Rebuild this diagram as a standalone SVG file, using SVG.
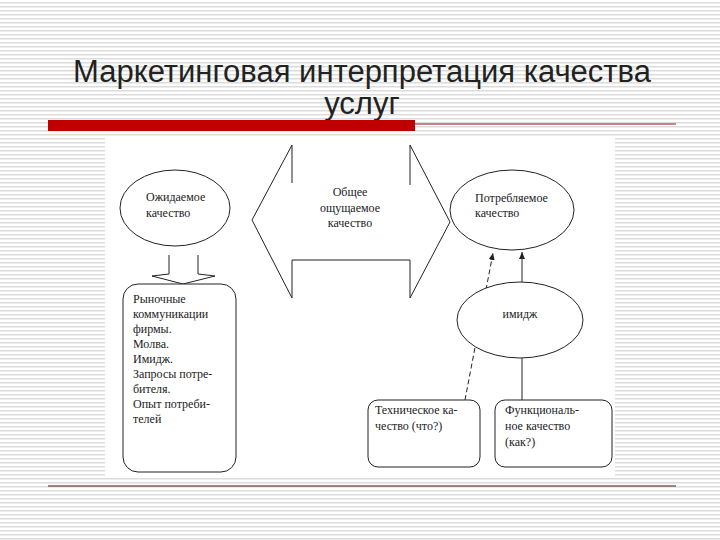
<svg xmlns="http://www.w3.org/2000/svg" width="720" height="540" viewBox="0 0 720 540">
<defs>
<pattern id="st" width="4" height="4" patternUnits="userSpaceOnUse"><rect width="4" height="4" fill="#fff"/><rect y="2" width="4" height="1.5" fill="#dcdcdc"/></pattern>
<marker id="ah" markerWidth="8" markerHeight="8" refX="7" refY="4" orient="auto"><path d="M0,1 L7,4 L0,7 Z" fill="#222"/></marker>
<style>
.ln{fill:none;stroke:#222;stroke-width:1}
.sh{fill:#fff;stroke:#222;stroke-width:1}
.t{font-size:12px;fill:#222}
.ti{font-size:31px;fill:#222;text-anchor:middle}
</style>
</defs>
<rect width="720" height="540" fill="url(#st)"/>
<g font-family="'Liberation Sans', Arial, sans-serif">
<text class="ti" x="362" y="82">Маркетинговая интерпретация качества</text>
<text class="ti" x="362" y="114">услуг</text>
</g>
<rect x="48" y="120" width="367" height="11" fill="#c00000"/>
<line x1="415" y1="124" x2="676" y2="124" stroke="#8b1a1a" stroke-width="1"/>
<line x1="48" y1="486" x2="676" y2="486" stroke="#5a1010" stroke-width="1.2"/>
<rect x="105" y="138" width="510" height="338" fill="#fff"/>
<g id="connectors">
<path class="ln" d="M292,145 V183 M292,145 L252,220 L292,298 V260 H410 V298 L450,222 L410,145 V185"/>
<path class="ln" d="M169,255 V274 L152,276 L183,284 L215,276 L198,274 V255"/>
<line class="ln" x1="465" y1="400" x2="493" y2="253" stroke-dasharray="5,3" marker-end="url(#ah)"/>
<line class="ln" x1="522" y1="282" x2="522" y2="252" marker-end="url(#ah)"/>
<line class="ln" x1="522" y1="358" x2="522" y2="400"/>
</g>
<g font-family="'Liberation Serif', 'Times New Roman', serif">
<g id="expected"><ellipse class="sh" cx="175" cy="208" rx="55" ry="38"/><text class="t" x="146" y="201">Ожидаемое</text><text class="t" x="146" y="217">качество</text></g>
<g id="total"><text class="t" text-anchor="middle" x="350" y="196">Общее</text><text class="t" text-anchor="middle" x="350" y="212">ощущаемое</text><text class="t" text-anchor="middle" x="350" y="227">качество</text></g>
<g id="perceived"><ellipse class="sh" cx="512" cy="210" rx="62" ry="40"/><text class="t" x="475" y="202">Потребляемое</text><text class="t" x="475" y="217">качество</text></g>
<g id="image"><ellipse class="sh" cx="520" cy="320" rx="63" ry="38"/><text class="t" text-anchor="middle" x="520" y="318">имидж</text></g>
<g id="market"><rect class="sh" x="123" y="284" width="113" height="188" rx="15"/>
<text class="t" x="133" y="303">Рыночные</text><text class="t" x="133" y="318">коммуникации</text><text class="t" x="133" y="333">фирмы.</text><text class="t" x="133" y="348">Молва.</text><text class="t" x="133" y="363">Имидж.</text><text class="t" x="133" y="378">Запросы потре-</text><text class="t" x="133" y="393">бителя.</text><text class="t" x="133" y="408">Опыт потреби-</text><text class="t" x="133" y="423">телей</text></g>
<g id="tech"><rect class="sh" x="368" y="400" width="112" height="67" rx="10"/><text class="t" x="375" y="414">Техническое ка-</text><text class="t" x="375" y="430">чество (что?)</text></g>
<g id="func"><rect class="sh" x="495" y="400" width="117" height="67" rx="10"/><text class="t" x="505" y="414">Функциональ-</text><text class="t" x="505" y="430">ное качество</text><text class="t" x="505" y="446">(как?)</text></g>
</g>
</svg>
